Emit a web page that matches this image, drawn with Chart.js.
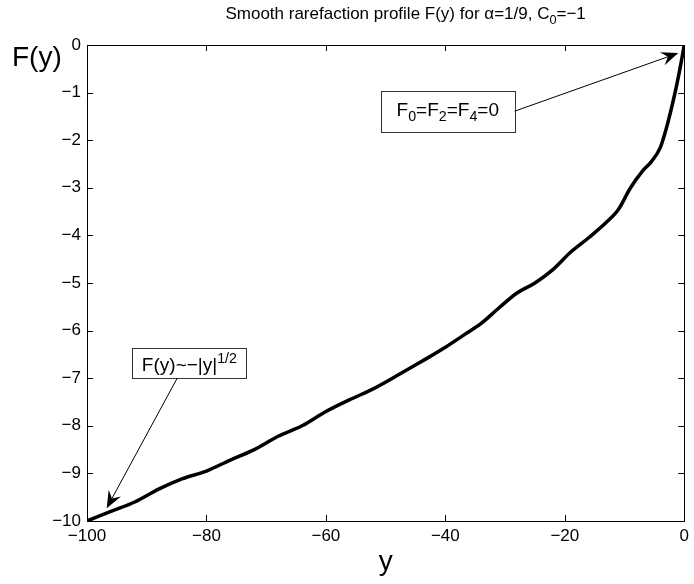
<!DOCTYPE html>
<html>
<head>
<meta charset="utf-8">
<script src="https://cdn.jsdelivr.net/npm/chart.js@4.4.0/dist/chart.umd.min.js"></script>
<style>
  html, body { margin: 0; padding: 0; background: #fff; }
  #wrap { width: 694px; height: 584px; }
</style>
</head>
<body>
<div id="wrap"><canvas id="profile" width="694" height="584"></canvas></div>
<script>
// y coordinate (horizontal axis) and the profile F(y)
const yCoord = [-100, -96, -92, -88, -84, -80, -76, -72, -68, -64, -60, -56, -52, -48, -44, -40,
                -37, -34, -31, -28, -25, -22, -19, -16, -13, -11, -9, -7, -5.5, -4, -3, -2, -1.2, -0.5, 0];
const Fvals  = [-10, -9.80, -9.60, -9.33, -9.11, -8.95, -8.72, -8.50, -8.22, -8.00, -7.70, -7.45, -7.22, -6.94, -6.65, -6.35,
                -6.10, -5.85, -5.52, -5.21, -5.00, -4.72, -4.35, -4.05, -3.72, -3.45, -3.00, -2.65, -2.45, -2.15, -1.75, -1.25, -0.80, -0.35, 0];

const xTicks = [-100, -80, -60, -40, -20, 0];
const yTicks = [-10, -9, -8, -7, -6, -5, -4, -3, -2, -1, 0];

// annotation arrows (data coords): tail -> tip
const arrowTail = [[-28.4, -1.39], [-84.9, -7.0]];
const arrowTip  = [[-1.0, -0.17], [-96.7, -9.73]];
// annotation boxes (data coords): [left, top, right, bottom]
const boxes = [[-50.8, -0.97, -28.4, -1.83], [-92.4, -6.37, -73.3, -7.0]];

const FONT = "'Liberation Sans', Arial, Helvetica, sans-serif";
const minus = s => String(s).replace('-', '\u2212');

// draw text pieces with sub/superscripts
function richText(ctx, parts, x, y, size, align) {
    let total = 0;
    parts.forEach(p => {
        ctx.font = (p.s ? size * 0.75 : size) + 'px ' + FONT;
        p.w = ctx.measureText(p.t).width;
        total += p.w;
    });
    let cx = align === 'center' ? x - total / 2 : x;
    parts.forEach(p => {
        ctx.font = (p.s ? size * 0.75 : size) + 'px ' + FONT;
        ctx.fillText(p.t, cx, y + (p.dy || 0));
        cx += p.w;
    });
}

function arrow(ctx, x1, y1, x2, y2) {
    const a = Math.atan2(y2 - y1, x2 - x1);
    const c = Math.cos(a), s = Math.sin(a);
    const L = 17, W = 7, N = 11;
    ctx.beginPath();
    ctx.moveTo(x1, y1);
    ctx.lineTo(x2 - N * c, y2 - N * s);
    ctx.stroke();
    ctx.beginPath();
    ctx.moveTo(x2, y2);
    ctx.lineTo(x2 - L * c + W * s, y2 - L * s - W * c);
    ctx.lineTo(x2 - N * c, y2 - N * s);
    ctx.lineTo(x2 - L * c - W * s, y2 - L * s + W * c);
    ctx.closePath();
    ctx.fill();
}

const decorPlugin = {
    id: 'decor',
    afterDraw(chart) {
        const { ctx, chartArea: ca, scales: { x, y } } = chart;
        ctx.save();
        ctx.strokeStyle = '#000';
        ctx.fillStyle = '#000';
        ctx.lineWidth = 1;

        // axes box
        ctx.strokeRect(Math.round(ca.left) + 0.5, Math.round(ca.top) + 0.5,
                       Math.round(ca.right - ca.left), Math.round(ca.bottom - ca.top));

        // inward ticks on all sides
        ctx.beginPath();
        xTicks.forEach(v => {
            const px = Math.round(x.getPixelForValue(v)) + 0.5;
            ctx.moveTo(px, ca.bottom); ctx.lineTo(px, ca.bottom - 6);
            ctx.moveTo(px, ca.top); ctx.lineTo(px, ca.top + 6);
        });
        yTicks.forEach(v => {
            const py = Math.round(y.getPixelForValue(v)) + 0.5;
            ctx.moveTo(ca.left, py); ctx.lineTo(ca.left + 6, py);
            ctx.moveTo(ca.right, py); ctx.lineTo(ca.right - 6, py);
        });
        ctx.stroke();

        // annotation boxes
        boxes.forEach(b => {
            const l = Math.round(x.getPixelForValue(b[0])) + 0.5, t = Math.round(y.getPixelForValue(b[1])) + 0.5;
            const r = Math.round(x.getPixelForValue(b[2])) + 0.5, bt = Math.round(y.getPixelForValue(b[3])) + 0.5;
            ctx.fillStyle = '#fff';
            ctx.fillRect(l, t, r - l, bt - t);
            ctx.strokeStyle = '#333';
            ctx.strokeRect(l, t, r - l, bt - t);
        });
        ctx.strokeStyle = '#000';
        ctx.fillStyle = '#000';
        arrowTail.forEach((tl, i) => {
            arrow(ctx, x.getPixelForValue(tl[0]), y.getPixelForValue(tl[1]),
                  x.getPixelForValue(arrowTip[i][0]), y.getPixelForValue(arrowTip[i][1]));
        });

        ctx.textBaseline = 'alphabetic';
        ctx.textAlign = 'left';
        const b1 = boxes[0], b2 = boxes[1];
        richText(ctx, [{t: 'F'}, {t: '0', s: 1, dy: 5}, {t: '=F'}, {t: '2', s: 1, dy: 5}, {t: '=F'}, {t: '4', s: 1, dy: 5}, {t: '=0'}],
                 (x.getPixelForValue(b1[0]) + x.getPixelForValue(b1[2])) / 2, y.getPixelForValue(b1[1]) + 25, 19, 'center');
        richText(ctx, [{t: 'F(y)~\u2212|y|'}, {t: '1/2', s: 1, dy: -8}],
                 (x.getPixelForValue(b2[0]) + x.getPixelForValue(b2[2])) / 2, y.getPixelForValue(b2[1]) + 23, 19, 'center');

        // title
        richText(ctx, [{t: 'Smooth rarefaction profile F(y) for \u03b1=1/9, C'}, {t: '0', s: 1, dy: 5}, {t: '=\u22121'}],
                 (ca.left + ca.right) / 2 + 20, 19, 17, 'center');

        // axis labels
        ctx.font = '28px ' + FONT;
        ctx.textAlign = 'left';
        ctx.fillText('F(y)', 12, 66);
        ctx.textAlign = 'center';
        ctx.fillText('y', (ca.left + ca.right) / 2, 570);
        ctx.restore();
    }
};

new Chart(document.getElementById('profile').getContext('2d'), {
    type: 'line',
    data: {
        datasets: [{
            data: yCoord.map((v, i) => ({ x: v, y: Fvals[i] })),
            borderColor: '#000',
            borderWidth: 3.5,
            pointRadius: 0,
            cubicInterpolationMode: 'monotone',
            fill: false
        }]
    },
    options: {
        responsive: false,
        animation: false,
        layout: { padding: { top: 45, right: 5, left: 0, bottom: 0 } },
        plugins: { legend: { display: false }, tooltip: { enabled: false }, title: { display: false } },
        scales: {
            x: {
                type: 'linear', min: -100, max: 0,
                afterBuildTicks: s => { s.ticks = xTicks.map(v => ({ value: v })); },
                afterFit: s => { s.height = 63; },
                grid: { display: false, drawTicks: false },
                border: { display: false },
                ticks: { color: '#000', font: { family: FONT, size: 17 }, padding: 5,
                         maxRotation: 0, autoSkip: false, callback: v => minus(v) }
            },
            y: {
                type: 'linear', min: -10, max: 0,
                afterBuildTicks: s => { s.ticks = yTicks.map(v => ({ value: v })); },
                afterFit: s => { s.width = 87; },
                grid: { display: false, drawTicks: false },
                border: { display: false },
                ticks: { color: '#000', font: { family: FONT, size: 17 }, padding: 6,
                         autoSkip: false, callback: v => minus(v) }
            }
        }
    },
    plugins: [decorPlugin]
});
</script>
</body>
</html>
